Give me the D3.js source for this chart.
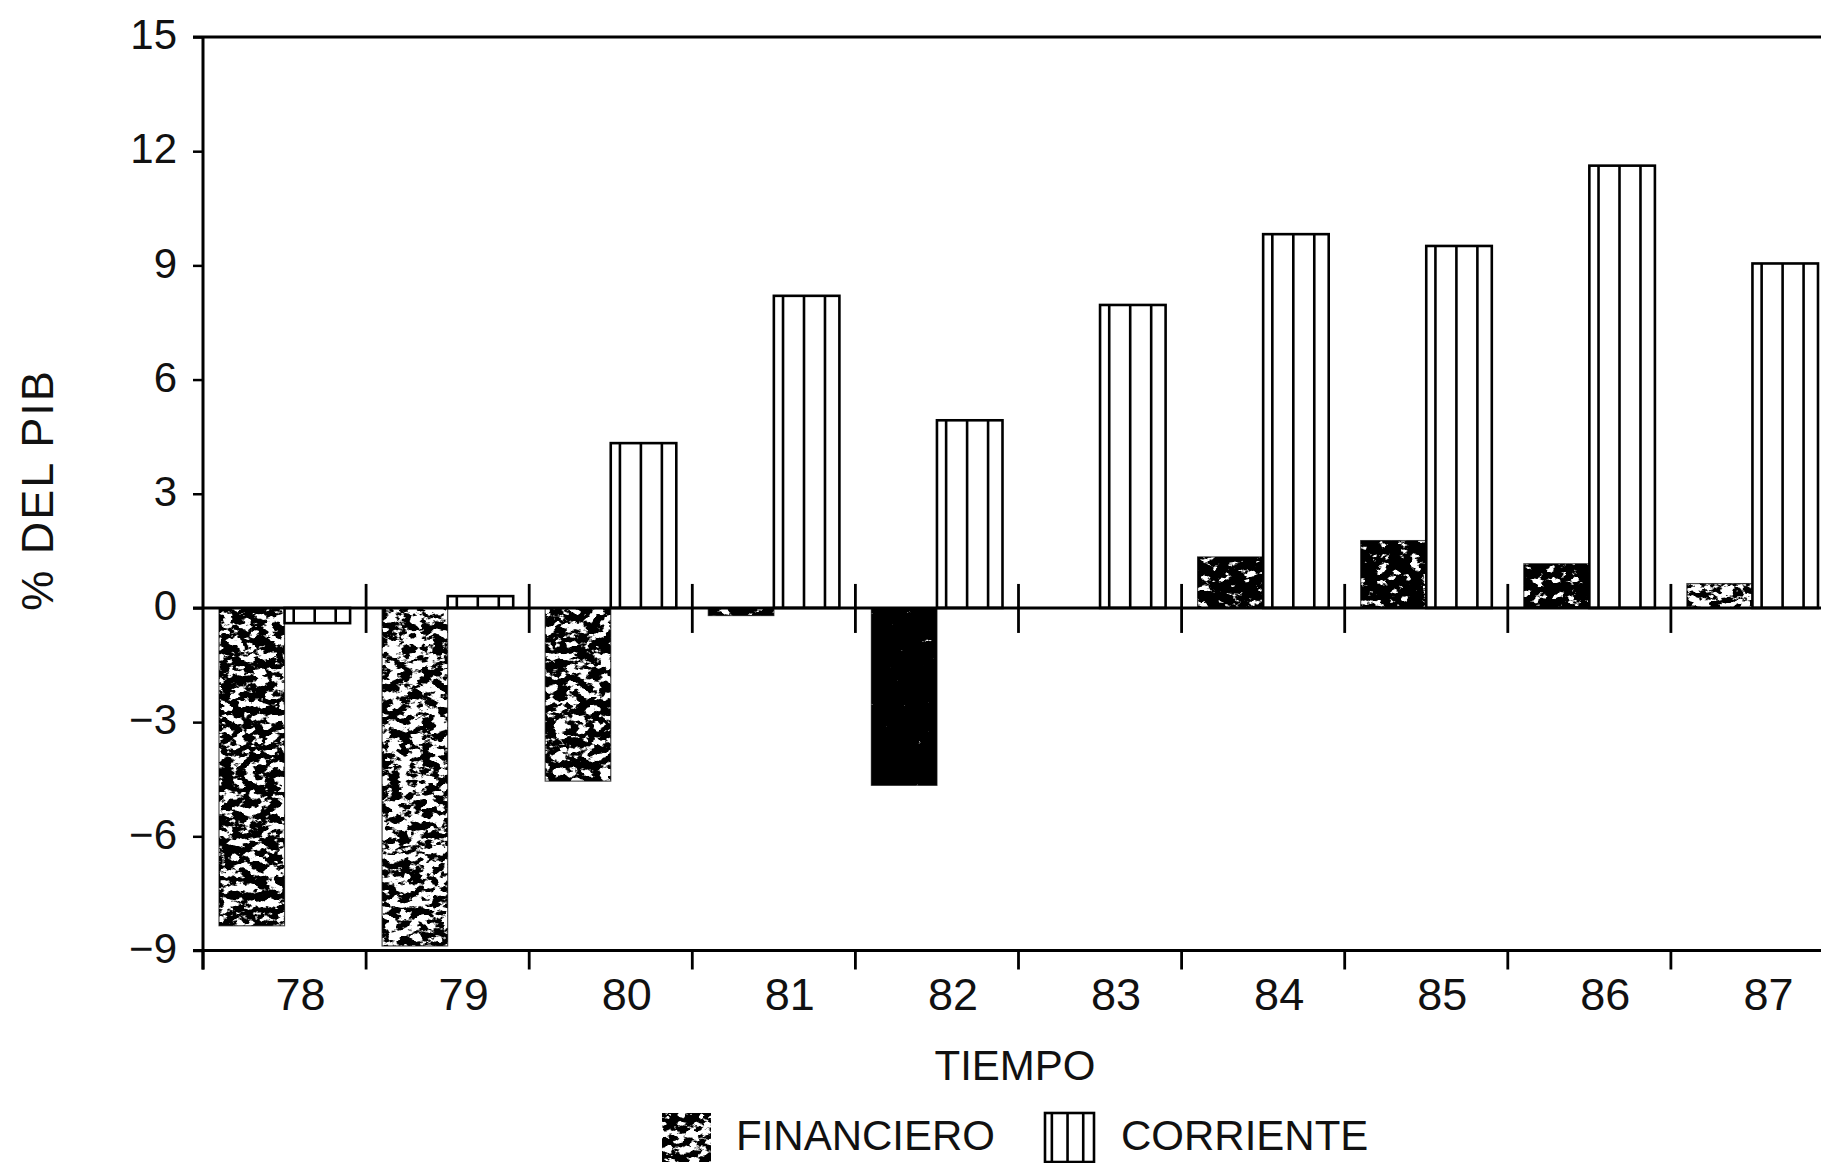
<!DOCTYPE html>
<html>
<head>
<meta charset="utf-8">
<script src="https://cdn.jsdelivr.net/npm/d3@7"></script>
<style>
  html, body { margin: 0; padding: 0; background: #fff; overflow: hidden; }
  svg { display: block; }
  text { font-family: "Liberation Sans", Arial, sans-serif; fill: #111; }
</style>
</head>
<body>
<script>
// ---- Data ----
const years = ["78", "79", "80", "81", "82", "83", "84", "85", "86", "87"];
const financiero = [-8.35, -8.88, -4.55, -0.2, -4.66, 0.0, 1.34, 1.77, 1.16, 0.64];
const corriente = [-0.4, 0.31, 4.33, 8.2, 4.93, 7.96, 9.82, 9.51, 11.62, 9.05];
const yTicks = [-9, -6, -3, 0, 3, 6, 9, 12, 15];
const seriesNames = ["FINANCIERO", "CORRIENTE"];
const xTitle = "TIEMPO";
const yTitle = "% DEL PIB";

// ---- Layout ----
const W = 1821, H = 1163;
const svg = d3.select("body").append("svg").attr("width", W).attr("height", H);

const x = d3.scaleBand().domain(years).range([203, 1834]).padding(0);
const sub = d3.scaleBand().domain(["fin", "corr"]).range([16, x.bandwidth() - 16]).padding(0);
const y = d3.scaleLinear().domain([-9, 15]).range([950.5, 37]);

// ---- Textures ----
const defs = svg.append("defs");
const densities = { light: 0.50, mid: 0.54, dark: 0.63, solid: 0.85 };
Object.entries(densities).forEach(([k, t]) => {
  const f = defs.append("filter").attr("id", "mottle-" + k)
    .attr("x", 0).attr("y", 0).attr("width", 1).attr("height", 1);
  f.append("feTurbulence").attr("type", "fractalNoise").attr("baseFrequency", "0.09 0.13")
    .attr("numOctaves", 4).attr("seed", 11).attr("result", "n");
  f.append("feColorMatrix").attr("in", "n").attr("type", "matrix")
    .attr("values", `0 0 0 0 0  0 0 0 0 0  0 0 0 0 0  -12 0 0 0 ${(12 * t + 0.5).toFixed(3)}`)
    .attr("result", "m");
  f.append("feComposite").attr("in", "SourceGraphic").attr("in2", "m").attr("operator", "in");
});
const finTexture = { "78": "mid", "79": "light", "80": "mid", "81": "dark", "82": "solid",
  "83": "dark", "84": "dark", "85": "dark", "86": "dark", "87": "light" };

const stripeFrac = [0.14, 0.46, 0.78];

// ---- Bars: FINANCIERO ----
const gFin = svg.append("g");
years.forEach((yr, i) => {
  const v = financiero[i];
  if (Math.abs(v) < 1e-6) return;
  const x0 = x(yr) + sub("fin");
  const y0 = Math.min(y(0), y(v));
  const h = Math.abs(y(v) - y(0));
  gFin.append("rect").attr("x", x0).attr("y", y0).attr("width", sub.bandwidth()).attr("height", h)
    .attr("fill", "#000").attr("filter", `url(#mottle-${finTexture[yr]})`);
  gFin.append("rect").attr("x", x0).attr("y", y0).attr("width", sub.bandwidth()).attr("height", h)
    .attr("fill", "none").attr("stroke", "#000").attr("stroke-width", 1.2).attr("stroke-opacity", 0.7);
});

// ---- Bars: CORRIENTE ----
const gCor = svg.append("g");
years.forEach((yr, i) => {
  const v = corriente[i];
  const x0 = x(yr) + sub("corr");
  const bw = sub.bandwidth();
  const y0 = Math.min(y(0), y(v));
  const h = Math.abs(y(v) - y(0));
  gCor.append("rect").attr("x", x0).attr("y", y0).attr("width", bw).attr("height", h)
    .attr("fill", "#fff").attr("stroke", "#000").attr("stroke-width", 2.6);
  stripeFrac.forEach(fr => {
    gCor.append("line").attr("x1", x0 + fr * bw).attr("x2", x0 + fr * bw)
      .attr("y1", y0).attr("y2", y0 + h).attr("stroke", "#000").attr("stroke-width", 2.6);
  });
});

// ---- Axes / frame ----
const gAx = svg.append("g").attr("stroke", "#000").attr("stroke-width", 3).attr("fill", "none");
const xLeft = x.range()[0];
[15, 0, -9].forEach(v => {
  gAx.append("line").attr("x1", 193).attr("x2", W).attr("y1", y(v)).attr("y2", y(v));
});
gAx.append("line").attr("x1", xLeft).attr("x2", xLeft).attr("y1", y(15)).attr("y2", y(-9) + 19);

// y axis ticks & labels
const yAxis = d3.axisLeft(y).tickValues(yTicks).tickSize(10).tickPadding(16)
  .tickFormat(d => d < 0 ? "\u2212" + Math.abs(d) : String(d));
const gy = svg.append("g").attr("transform", `translate(${xLeft},0)`).call(yAxis);
gy.select(".domain").remove();
gy.selectAll(".tick line").attr("stroke", "#000").attr("stroke-width", 2.5);
gy.selectAll(".tick text").attr("font-size", 42).attr("dy", "0.28em")
  .style("font-family", '"Liberation Sans", Arial, sans-serif').attr("fill", "#111");

// x ticks at category boundaries
const bounds = years.map(d => x(d)).concat([x.range()[1]]);
bounds.forEach((bx, i) => {
  if (i > 0) {
    gAx.append("line").attr("x1", bx).attr("x2", bx).attr("y1", y(0) - 24).attr("y2", y(0) + 25)
      .attr("stroke-width", 2.8);
  }
  gAx.append("line").attr("x1", bx).attr("x2", bx).attr("y1", y(-9)).attr("y2", y(-9) + 19)
    .attr("stroke-width", 2.8);
});

// x labels
svg.append("g").selectAll("text").data(years).join("text")
  .attr("x", d => x(d) + x.bandwidth() / 2 + 16)
  .attr("y", 1010)
  .attr("text-anchor", "middle")
  .attr("font-size", 45)
  .text(d => d);

// titles
svg.append("text").attr("x", 1015).attr("y", 1080).attr("text-anchor", "middle")
  .attr("font-size", 42).text(xTitle);
svg.append("text").attr("transform", "translate(53,490) rotate(-90)").attr("text-anchor", "middle")
  .attr("font-size", 45).attr("letter-spacing", 2).text(yTitle);

// ---- Legend ----
const lg = svg.append("g");
const sw = 49;
lg.append("rect").attr("x", 662).attr("y", 1113).attr("width", sw).attr("height", sw)
  .attr("fill", "#000").attr("filter", "url(#mottle-mid)");
lg.append("text").attr("x", 736).attr("y", 1150).attr("font-size", 42).text(seriesNames[0]);
const cx0 = 1045;
lg.append("rect").attr("x", cx0).attr("y", 1113).attr("width", sw).attr("height", sw)
  .attr("fill", "#fff").attr("stroke", "#000").attr("stroke-width", 2.6);
stripeFrac.forEach(fr => {
  lg.append("line").attr("x1", cx0 + fr * sw).attr("x2", cx0 + fr * sw)
    .attr("y1", 1113).attr("y2", 1113 + sw).attr("stroke", "#000").attr("stroke-width", 2.6);
});
lg.append("text").attr("x", 1121).attr("y", 1150).attr("font-size", 42).text(seriesNames[1]);
</script>
</body>
</html>
